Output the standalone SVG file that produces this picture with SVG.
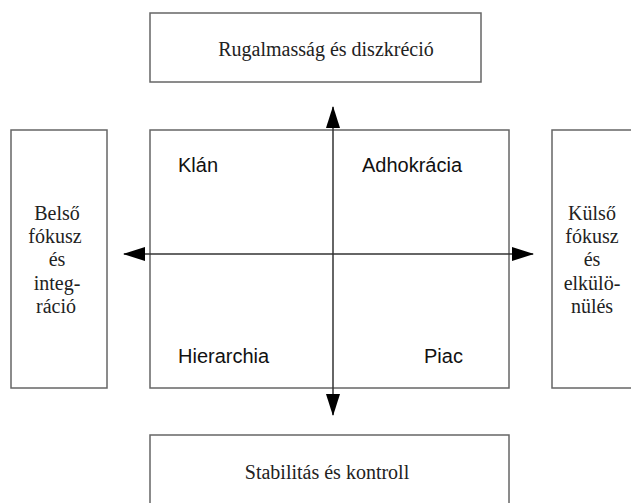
<svg xmlns="http://www.w3.org/2000/svg" width="631" height="503" viewBox="0 0 631 503">
<style>
.box{fill:#fff;stroke:#666;stroke-width:1.5}
.ser{font-family:"Liberation Serif","Times New Roman",serif;font-size:20px;fill:#222;text-anchor:middle}
.san{font-family:"Liberation Sans",Arial,sans-serif;font-size:20px;fill:#111}
.ax{stroke:#333;stroke-width:1.5;fill:none}
</style>
<defs>
<marker id="ah" viewBox="0 0 22 14" refX="21" refY="7" markerWidth="22" markerHeight="14" markerUnits="userSpaceOnUse" orient="auto">
<path d="M0,0 L22,7 L0,14 Z" fill="#000"/>
</marker>
</defs>
<rect width="631" height="503" fill="#fff"/>
<g id="top"><rect class="box" x="150" y="13" width="331" height="69"/><text class="ser" x="326" y="56">Rugalmasság és diszkréció</text></g>
<g id="left"><rect class="box" x="11" y="130" width="96" height="258"/>
<text class="ser" x="57" y="220">Belső</text><text class="ser" x="55" y="243">fókusz</text><text class="ser" x="57" y="266">és</text><text class="ser" x="57" y="290">integ-</text><text class="ser" x="56" y="313">ráció</text></g>
<g id="right"><rect class="box" x="552" y="130" width="90" height="258"/>
<text class="ser" x="592" y="220">Külső</text><text class="ser" x="592" y="243">fókusz</text><text class="ser" x="592" y="266">és</text><text class="ser" x="592" y="290">elkülö-</text><text class="ser" x="592" y="313">nülés</text></g>
<g id="center"><rect class="box" x="150" y="130" width="359" height="258"/>
<text class="san" x="178" y="172">Klán</text><text class="san" x="362" y="172">Adhokrácia</text><text class="san" x="178" y="363">Hierarchia</text><text class="san" x="424" y="363">Piac</text></g>
<g id="bottom"><rect class="box" x="150" y="435" width="359" height="80"/><text class="ser" x="327" y="479">Stabilitás és kontroll</text></g>
<g id="connectors">
<line class="ax" x1="333" y1="254" x2="333" y2="107" marker-end="url(#ah)"/>
<line class="ax" x1="333" y1="254" x2="333" y2="415" marker-end="url(#ah)"/>
<line class="ax" x1="333" y1="254" x2="124" y2="254" marker-end="url(#ah)"/>
<line class="ax" x1="333" y1="254" x2="533" y2="254" marker-end="url(#ah)"/>
</g>
</svg>
